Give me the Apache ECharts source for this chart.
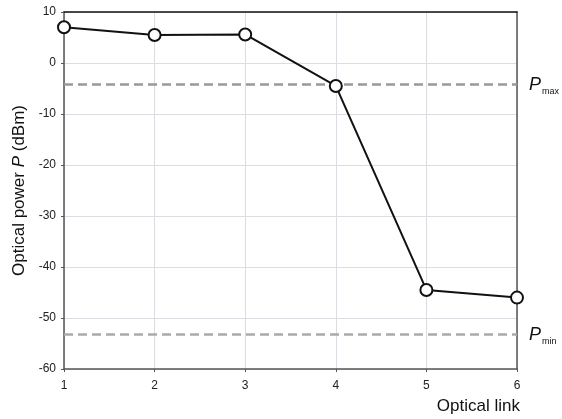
<!DOCTYPE html>
<html><head><meta charset="utf-8">
<script src="https://cdn.jsdelivr.net/npm/echarts@6/dist/echarts.min.js"></script>
<style>html,body{margin:0;padding:0;background:#fff}#c{width:562px;height:419px}</style>
</head><body><div id="c"></div>
<script>
const links = [1, 2, 3, 4, 5, 6];
const power = [7.0, 5.5, 5.6, -4.5, -44.5, -46.0];
const pMax = -4.2;
const pMin = -53.2;
const yTicks = [-60, -50, -40, -30, -20, -10, 0, 10];

const chart = echarts.init(document.getElementById('c'), null, {renderer: 'canvas'});
const font = 'Liberation Sans, Arial, sans-serif';
const limLabel = (sub) => ({
  show: true, position: 'end', distance: 12,
  formatter: '{p|P}{s|' + sub + '}',
  rich: {
    p: {fontFamily: font, fontStyle: 'italic', fontSize: 18, color: '#111', verticalAlign: 'bottom', padding: [0, 0, -2, 0]},
    s: {fontFamily: font, fontSize: 9, color: '#111', verticalAlign: 'bottom', padding: [0, 0, -4, 1]}
  }
});
chart.setOption({
  animation: false,
  grid: {left: 64, right: 45, top: 12, bottom: 50, show: false},
  xAxis: [{
    type: 'value', min: 1, max: 6, interval: 1,
    axisLine: {show: true, onZero: false, lineStyle: {color: '#555', width: 1.5}},
    axisTick: {show: true, length: 3, lineStyle: {color: '#555'}},
    axisLabel: {color: '#222', fontFamily: font, fontSize: 12, margin: 11},
    splitLine: {show: true, lineStyle: {color: '#dcdde2', width: 1}},
    name: 'Optical link', nameLocation: 'end', nameGap: 3,
    nameTextStyle: {fontFamily: font, fontSize: 17, color: '#111', align: 'right', verticalAlign: 'top', padding: [29, 0, 0, 0]}
  }, {
    type: 'value', position: 'top', min: 1, max: 6, interval: 1,
    axisLine: {show: true, onZero: false, lineStyle: {color: '#111', width: 1.5}},
    axisTick: {show: false}, axisLabel: {show: false}, splitLine: {show: false}
  }],
  yAxis: [{
    type: 'value', min: yTicks[0], max: yTicks[yTicks.length - 1], interval: 10,
    axisLine: {show: true, onZero: false, lineStyle: {color: '#555', width: 1.5}},
    axisTick: {show: true, length: 3, lineStyle: {color: '#555'}},
    axisLabel: {color: '#222', fontFamily: font, fontSize: 12, margin: 8},
    splitLine: {show: true, lineStyle: {color: '#dcdde2', width: 1}},
    name: '{n|Optical power }{i|P}{n| (dBm)}', nameLocation: 'middle', nameGap: 36,
    nameTextStyle: {rich: {
      n: {fontFamily: font, fontSize: 17, color: '#111'},
      i: {fontFamily: font, fontSize: 17, color: '#111', fontStyle: 'italic'}
    }}
  }, {
    type: 'value', position: 'right', min: yTicks[0], max: yTicks[yTicks.length - 1], interval: 10,
    axisLine: {show: true, onZero: false, lineStyle: {color: '#555', width: 1.5}},
    axisTick: {show: false}, axisLabel: {show: false}, splitLine: {show: false}
  }],
  series: [{
    type: 'line',
    data: links.map((x, i) => [x, power[i]]),
    symbol: 'circle', symbolSize: 12,
    lineStyle: {color: '#111', width: 2},
    itemStyle: {color: '#fff', borderColor: '#111', borderWidth: 2},
    z: 5,
    markLine: {
      silent: true, symbol: 'none', z: 3,
      lineStyle: {color: '#999', type: [9, 5], width: 2.5},
      data: [
        {yAxis: pMax, label: limLabel('max')},
        {yAxis: pMin, label: limLabel('min'), lineStyle: {color: '#aaa'}}
      ]
    }
  }]
});
</script></body></html>
